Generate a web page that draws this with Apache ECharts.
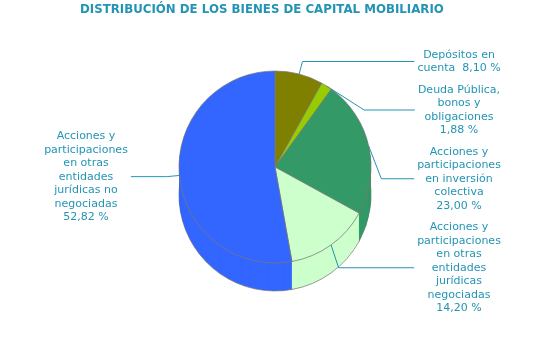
<!DOCTYPE html>
<html>
<head>
<meta charset="utf-8">
<script src="https://cdn.jsdelivr.net/npm/echarts@6/dist/echarts.min.js"></script>
<style>html,body{margin:0;padding:0;background:#fff}#c{width:550px;height:350px}</style>
</head>
<body>
<div id="c"></div>
<script>
const chartTitle = 'DISTRIBUCIÓN DE LOS BIENES DE CAPITAL MOBILIARIO';
const categories = [
  'Depósitos en\ncuenta',
  'Deuda Pública,\nbonos y\nobligaciones',
  'Acciones y\nparticipaciones\nen inversión\ncolectiva',
  'Acciones y\nparticipaciones\nen otras\nentidades\njurídicas\nnegociadas',
  'Acciones y\nparticipaciones\nen otras\nentidades\njurídicas no\nnegociadas'
];
const values = [8.10, 1.88, 23.00, 14.20, 52.82];
const pctSeparators = ['  ', '\n', '\n', '\n', '\n'];
const colors = ['#808000', '#99cc00', '#339966', '#ccffcc', '#3366ff'];

const textColor = '#2394b4';
const font = '"DejaVu Sans", Verdana, sans-serif';
const cx = 275, cy = 167, R = 96, depth = 28, layers = 29;

function fmtPct(v) { return v.toFixed(2).replace('.', ',') + ' %'; }

const data = categories.map((n, i) => ({ name: n, value: values[i] }));

const series = [];
for (let k = 0; k < layers; k++) {
  const off = depth * (layers - 1 - k) / (layers - 1);
  const isTop = k === layers - 1;
  const isBottom = k === 0;
  series.push({
    type: 'pie',
    left: 0, top: 0, right: 5, bottom: 0,
    center: [cx, cy + off],
    radius: [0, R],
    startAngle: 90,
    clockwise: true,
    silent: true,
    z: 2 + k,
    animation: false,
    avoidLabelOverlap: true,
    itemStyle: {
      borderColor: (isTop || isBottom) ? 'rgba(120,120,120,0.75)' : 'transparent',
      borderWidth: (isTop || isBottom) ? 1 : 0
    },
    emphasis: { disabled: true },
    label: isTop ? {
      show: true,
      position: 'outside',
      alignTo: 'edge',
      edgeDistance: 36,
      distanceToLabelLine: 3,
      width: 100,
      overflow: 'none',
      formatter: p => '{g| }\n' + (p.name + pctSeparators[p.dataIndex] + fmtPct(values[p.dataIndex]))
        .split('\n').map(s => '{c|' + s + '}').join('\n') + '\n{g| }',
      rich: {
        c: { align: 'center', fontSize: 11, lineHeight: 13.5, color: textColor, fontFamily: font },
        g: { fontSize: 3, lineHeight: 3 }
      }
    } : { show: false },
    labelLine: isTop ? {
      show: true, length: 13, length2: 12,
      lineStyle: { color: textColor, width: 1 }
    } : { show: false },
    data: data
  });
}

const chart = echarts.init(document.getElementById('c'), null, { renderer: 'canvas' });
chart.setOption({
  animation: false,
  color: colors,
  title: {
    text: chartTitle,
    left: 80, top: 4, padding: 0,
    textStyle: { color: textColor, fontSize: 11.8, fontWeight: 'bold', fontFamily: font }
  },
  series: series
});
</script>
</body>
</html>
